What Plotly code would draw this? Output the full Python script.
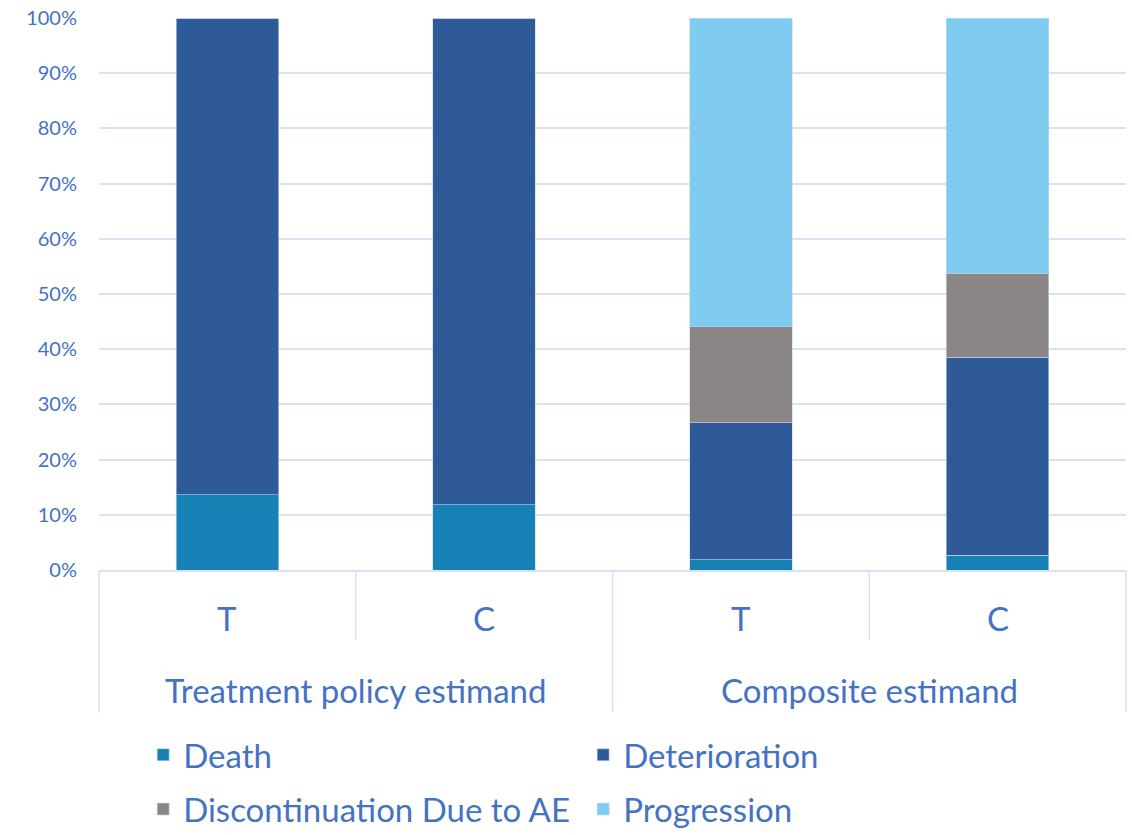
import plotly.graph_objects as go

# Estimand groups and treatment arms
groups = ["Treatment policy estimand", "Treatment policy estimand",
          "Composite estimand", "Composite estimand"]
arms = ["T", "C", "T", "C"]
group_names = ["Treatment policy estimand", "Composite estimand"]

# Share of events (%) per arm, stacked bottom to top
death = [13.6, 11.8, 1.9, 2.7]
deterioration = [86.4, 88.2, 24.8, 35.8]
discontinuation = [0.0, 0.0, 17.4, 15.3]
progression = [0.0, 0.0, 55.9, 46.2]

series = [
    ("Death", death, "#1681B5", "legend"),
    ("Deterioration", deterioration, "#2E5A97", "legend"),
    ("Discontinuation Due to AE", discontinuation, "#8B8685", "legend2"),
    ("Progression", progression, "#7FCCF0", "legend2"),
]

text_blue = "#4472C4"
grid_col = "#D9E2F3"
font_family = "Lato, 'Open Sans', sans-serif"
label_size = 33

fig = go.Figure()
for name, vals, col, leg in series:
    fig.add_trace(go.Bar(
        x=[groups, arms], y=vals, name=name, legend=leg,
        marker=dict(color=col, line=dict(color="rgba(200,215,240,0.6)", width=1)),
    ))

legend_common = dict(
    orientation="h", x=0.043, xanchor="left", yanchor="middle",
    entrywidth=395, entrywidthmode="pixels", traceorder="normal",
    font=dict(size=label_size, color=text_blue, family=font_family),
    bgcolor="rgba(0,0,0,0)",
)

fig.update_layout(
    barmode="stack",
    bargap=0.6,
    width=1132, height=835,
    margin=dict(l=99, r=6, t=18, b=265),
    plot_bgcolor="white", paper_bgcolor="white",
    font=dict(family=font_family, color=text_blue),
    showlegend=True,
    legend=dict(y=0.096, yref="container", **legend_common),
    legend2=dict(y=0.031, yref="container", **legend_common),
)

fig.update_yaxes(
    range=[0, 100], dtick=10, ticksuffix="%",
    showgrid=True, gridcolor=grid_col, gridwidth=1.5,
    zeroline=False, showline=False,
    tickfont=dict(size=20, color=text_blue, family=font_family),
    ticks="outside", ticklen=17, tickcolor="rgba(0,0,0,0)",
)

fig.update_xaxes(
    type="multicategory",
    showline=True, linecolor=grid_col, linewidth=1.5,
    showticklabels=False, showdividers=False,
)

# Arm labels under each bar and estimand labels under each pair
n = len(arms)
for i, arm in enumerate(arms):
    fig.add_annotation(x=(i + 0.5) / n, y=-0.087, xref="paper", yref="paper",
                       text=arm, showarrow=False, xanchor="center", yanchor="middle",
                       font=dict(size=label_size, color=text_blue, family=font_family))
for j, g in enumerate(group_names):
    fig.add_annotation(x=(j + 0.5) / len(group_names), y=-0.217, xref="paper", yref="paper",
                       text=g, showarrow=False, xanchor="center", yanchor="middle",
                       font=dict(size=label_size, color=text_blue, family=font_family))

# Category dividers: full height between estimands, shorter between arms
for k in range(n + 1):
    xp = k / n
    depth = -0.257 if k % 2 == 0 else -0.127
    fig.add_shape(type="line", xref="paper", yref="paper",
                  x0=xp, x1=xp, y0=0, y1=depth,
                  line=dict(color=grid_col, width=1.5))

fig.write_html("out.html")
